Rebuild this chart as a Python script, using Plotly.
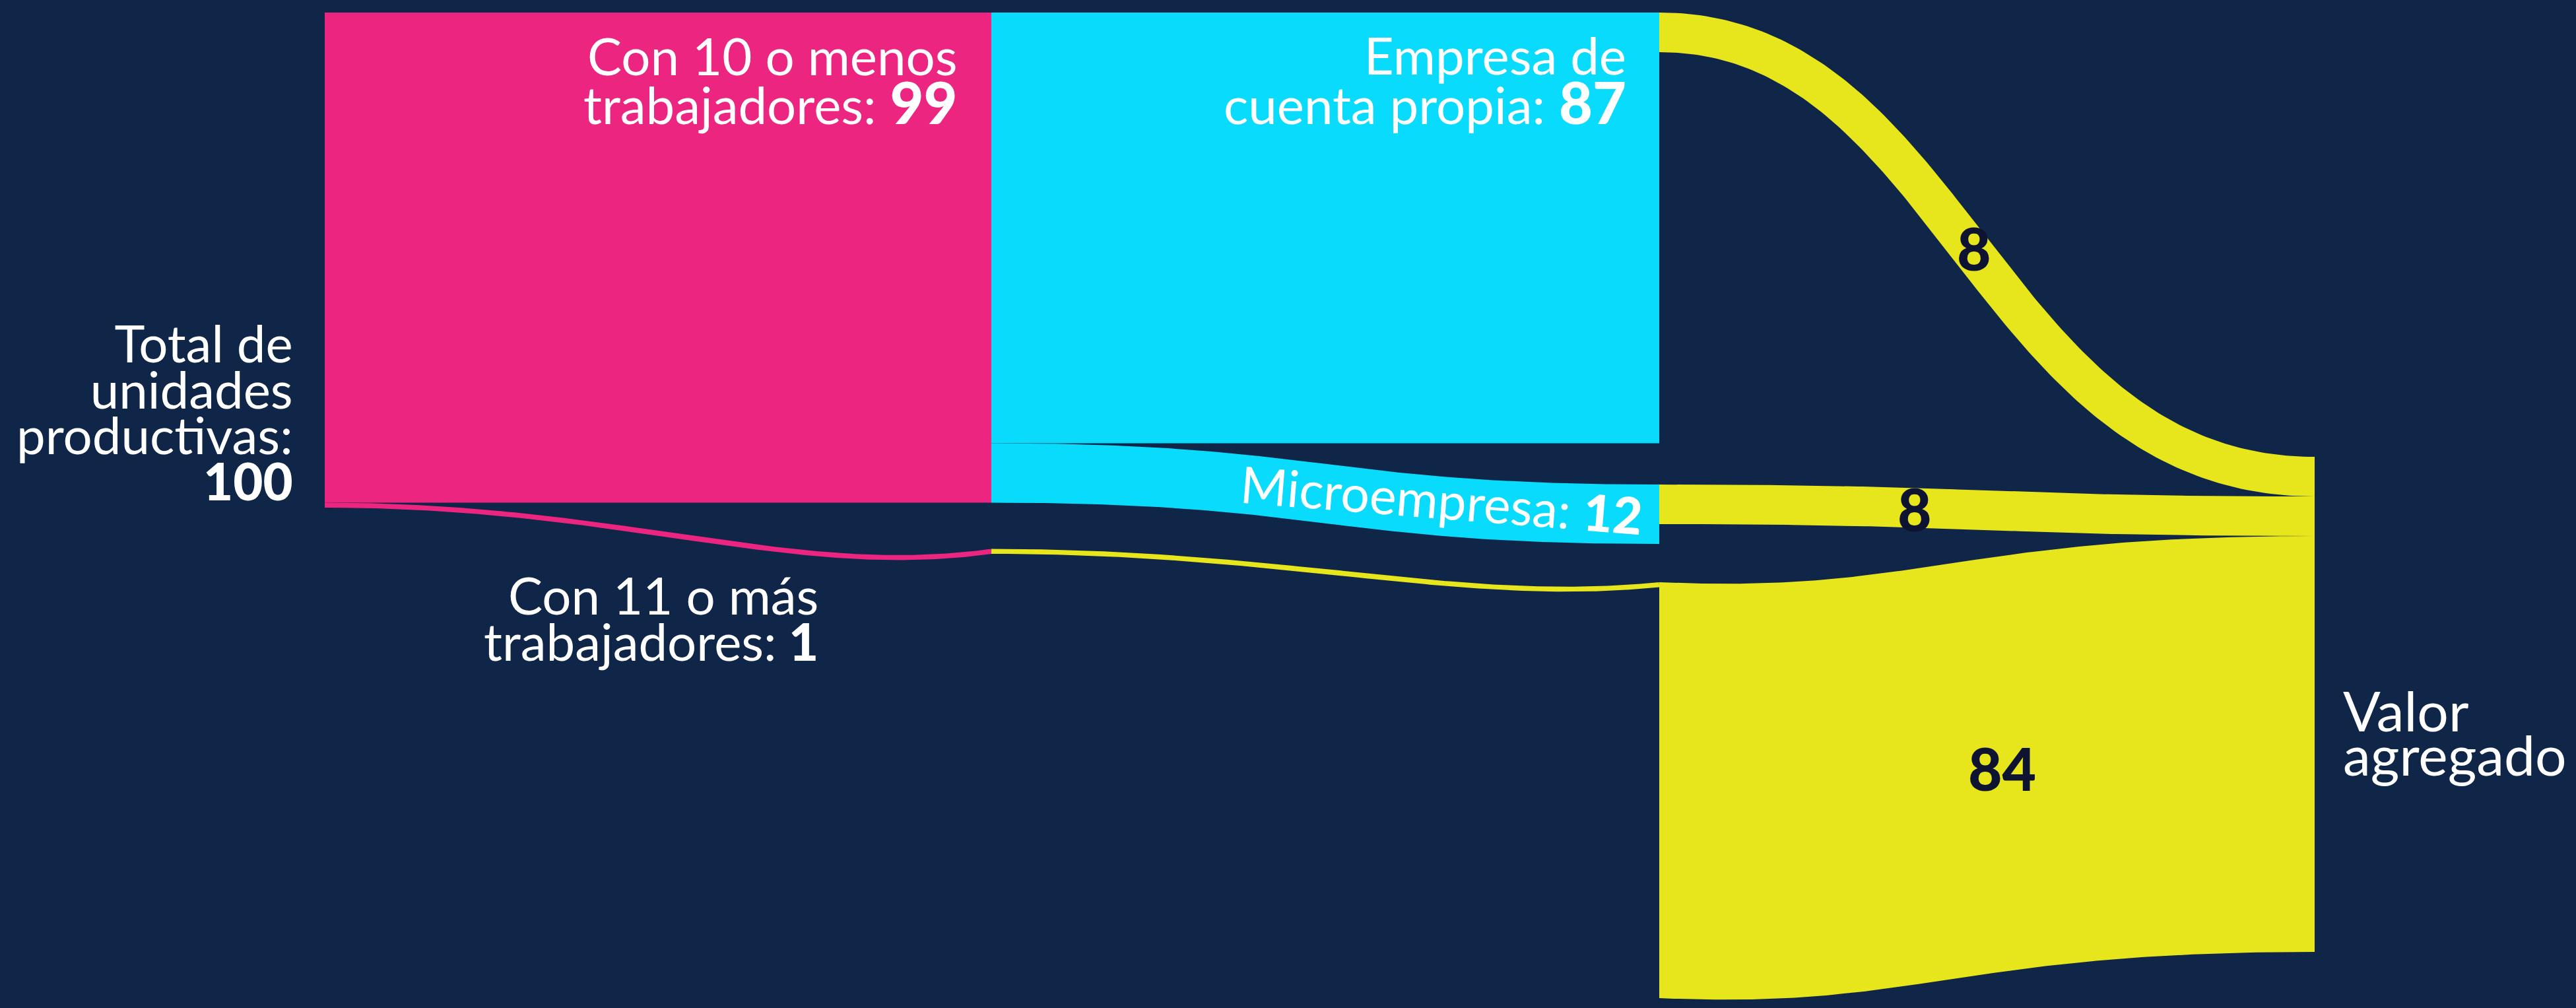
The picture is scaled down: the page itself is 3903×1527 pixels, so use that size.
import numpy as np
import plotly.graph_objects as go

# ---------------- data ----------------
total_label = ["Total de", "unidades", "productivas:"]
total_units = 100

size_labels = [["Con 10 o menos", "trabajadores:"], ["Con 11 o más", "trabajadores:"]]
size_units = [99, 1]

type_labels = [["Empresa de", "cuenta propia:"], ["Microempresa:"]]
type_units = [87, 12]          # split of "Con 10 o menos trabajadores"

va_label = ["Valor", "agregado"]
va_share = [8, 8, 84]          # cuenta propia, microempresa, 11 o más

# ---------------- style / layout ----------------
W, H = 3903, 1527
BG = "#0F2648"
PINK = "#EC2680"
CYAN = "#09DBFC"
YELLOW = "#E7E51C"
DARK = "#0D1330"
FONT = "Lato"

PX = 7.5                       # pixels per unit
COL = [492, 1502, 2514, 3507]  # column x positions
TOP = 19
GAP1 = 70                      # gap above "Con 11 o más" at column 1
GAP2A = 62.5                   # gap above microempresa at column 2
GAP2B = 58                     # gap above 11+ at column 2
VA_TOP = 692

TXT = 78
NUM_BIG = 88
NUM_FLOW = 89
ASC = 0.987                    # font ascent (em)


def band(x0, y0, x1, y1, v, color, c0=0.5, c1=0.5, o0=0.0, o1=0.0, perp=False, n=160):
    """Filled link between (x0, y0..y0+v) and (x1, y1..y1+v) via cubic bezier edges.
    perp=True keeps a constant width perpendicular to the path (ribbon)."""
    t = np.linspace(0, 1, n)
    dx, dy = x1 - x0, y1 - y0
    px = np.array([x0, x0 + c0 * dx, x1 - c1 * dx, x1], dtype=float)
    b = [(1 - t) ** 3, 3 * (1 - t) ** 2 * t, 3 * (1 - t) * t ** 2, t ** 3]
    db = [3 * (1 - t) ** 2, 6 * (1 - t) * t, 3 * t ** 2]
    bx = sum(bi * p for bi, p in zip(b, px))
    w = v * PX

    def ctrl(ya, yb):
        return np.array([ya, ya + o0 * dy, yb + o1 * dy, yb], dtype=float)

    if perp:
        py = ctrl(y0 + w / 2, y1 + w / 2)
        cy = sum(bi * p for bi, p in zip(b, py))
        ddx = sum(d * (px[k + 1] - px[k]) for k, d in enumerate(db))
        ddy = sum(d * (py[k + 1] - py[k]) for k, d in enumerate(db))
        L = np.hypot(ddx, ddy)
        nx, ny = -ddy / L, ddx / L
        tx, ty = bx - nx * w / 2, cy - ny * w / 2
        ux, uy = bx + nx * w / 2, cy + ny * w / 2
    else:
        tx = ux = bx
        ty = sum(bi * p for bi, p in zip(b, ctrl(y0, y1)))
        uy = sum(bi * p for bi, p in zip(b, ctrl(y0 + w, y1 + w)))
    xs = np.concatenate([tx, ux[::-1], tx[:1]])
    ys = np.concatenate([ty, uy[::-1], ty[:1]])
    return go.Scatter(x=xs, y=ys, mode="lines", fill="toself", fillcolor=color,
                      line=dict(width=0, color=color), hoverinfo="skip", showlegend=False)


traces = []
# stage 1: total -> size
col1_tops = [TOP, TOP + size_units[0] * PX + GAP1]
y_left = TOP
for i, v in enumerate(size_units):
    if i == 0:
        traces.append(band(COL[0], y_left, COL[1], col1_tops[i], v, PINK))
    else:
        traces.append(band(COL[0], y_left, COL[1], col1_tops[i], v, PINK,
                           c0=0.45, c1=0.3, o1=0.6, perp=True))
    y_left += v * PX

# stage 2: con 10 -> type ; con 11 -> continues
col2_tops = [TOP, TOP + type_units[0] * PX + GAP2A]
y_left = col1_tops[0]
for i, v in enumerate(type_units):
    traces.append(band(COL[1], y_left, COL[2], col2_tops[i], v, CYAN))
    y_left += v * PX
top_11 = col2_tops[1] + type_units[1] * PX + GAP2B
traces.append(band(COL[1], col1_tops[1], COL[2], top_11, size_units[1], YELLOW,
                   c0=0.45, c1=0.3, o1=0.6, perp=True))

# stage 3: value added
src_tops = [col2_tops[0], col2_tops[1], top_11]
va_style = [dict(c0=0.45, c1=0.5, perp=True), dict(c0=0.5, c1=0.5),
            dict(c0=0.4, c1=0.55, o0=-0.25)]
y_right = VA_TOP
for i, v in enumerate(va_share):
    traces.append(band(COL[2], src_tops[i], COL[3], y_right, v, YELLOW, **va_style[i]))
    y_right += v * PX

fig = go.Figure(traces)

ann = []


def sp(text, size, bold=False):
    st = "font-size:%dpx" % size
    if bold:
        st += ";font-weight:900"
    return '<span style="%s">%s</span>' % (st, text)


def block(x, first_baseline, spacing, lines, anchor, first_size):
    """Multi-line label; line spacing set through the annotation font size (1.3 em)."""
    ann.append(dict(x=x, y=first_baseline - ASC * first_size - 1, xref="x", yref="y",
                    text="<br>".join(lines), showarrow=False, xanchor=anchor, yanchor="top",
                    align=anchor, font=dict(family=FONT, size=spacing / 1.3, color="white")))


# Total
block(446, 548, 69.5,
      [sp(t, TXT) for t in total_label] + [sp(str(total_units), TXT, True)], "right", TXT)

# Con 10 o menos
block(1453, 113, 74,
      [sp(size_labels[0][0], TXT),
       sp(size_labels[0][1], TXT) + sp(" " + str(size_units[0]), NUM_BIG, True)], "right", TXT)

# Empresa de cuenta propia
block(2466, 112, 75,
      [sp(type_labels[0][0], TXT),
       sp(type_labels[0][1], TXT) + sp(" " + str(type_units[0]), NUM_BIG, True)], "right", TXT)

# Con 11 o más
block(1242, 930, 70,
      [sp(size_labels[1][0], TXT),
       sp(size_labels[1][1], TXT) + sp(" " + str(size_units[1]), TXT, True)], "right", TXT)

# Valor agregado
block(3548, 1107, 67, [sp(t, 84) for t in va_label], "left", 84)

# Microempresa (rotated along band)
ann.append(dict(x=2184, y=756, xref="x", yref="y",
                text=type_labels[1][0] + ' <span style="font-weight:900">%d</span>' % type_units[1],
                showarrow=False, xanchor="center", yanchor="middle", textangle=4.6,
                font=dict(family=FONT, size=77, color="white")))

# flow numbers
for (cx, cy), v in zip([(2991, 375), (2901, 770), (3033, 1163)], va_share):
    ann.append(dict(x=cx, y=cy, xref="x", yref="y",
                    text='<span style="font-weight:900">%d</span>' % v, showarrow=False,
                    xanchor="center", yanchor="middle",
                    font=dict(family=FONT, size=NUM_FLOW, color=DARK)))

fig.update_layout(
    width=W, height=H, margin=dict(l=0, r=0, t=0, b=0),
    paper_bgcolor=BG, plot_bgcolor=BG, showlegend=False,
    xaxis=dict(range=[0, W], visible=False, fixedrange=True),
    yaxis=dict(range=[H, 0], visible=False, fixedrange=True),
    annotations=ann,
)
fig.write_html("out.html", config={"displayModeBar": False, "staticPlot": True},
               post_script="document.body.style.margin='0';document.body.style.overflow='hidden';"
                           "document.body.style.background='%s';" % BG)
